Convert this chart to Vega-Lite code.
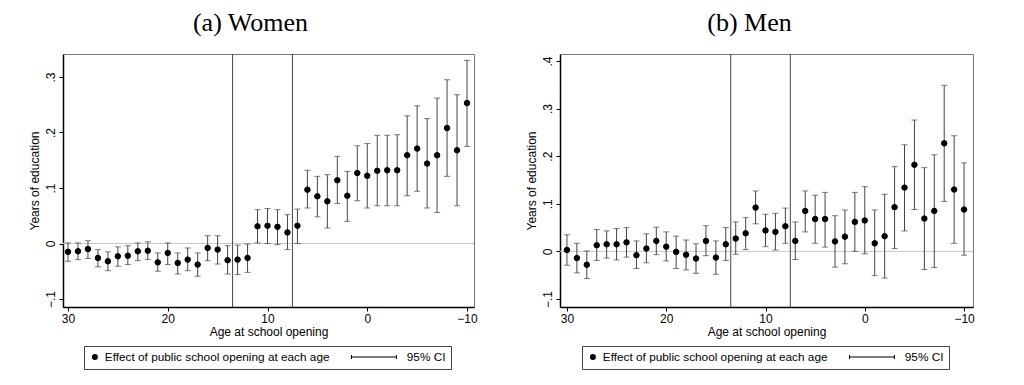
{
  "$schema": "https://vega.github.io/schema/vega-lite/v6.json",
  "padding": {"left": 27, "top": 9, "right": 5, "bottom": 5},
  "background": "white",
  "datasets": {
    "women": [
      {"age": 30, "b": -0.015, "hi": 0.001, "lo": -0.032},
      {"age": 29, "b": -0.014, "hi": 0.001, "lo": -0.029},
      {"age": 28, "b": -0.010, "hi": 0.005, "lo": -0.027},
      {"age": 27, "b": -0.026, "hi": -0.011, "lo": -0.042},
      {"age": 26, "b": -0.032, "hi": -0.015, "lo": -0.049},
      {"age": 25, "b": -0.023, "hi": -0.006, "lo": -0.041},
      {"age": 24, "b": -0.022, "hi": -0.004, "lo": -0.038},
      {"age": 23, "b": -0.014, "hi": 0.001, "lo": -0.031},
      {"age": 22, "b": -0.013, "hi": 0.003, "lo": -0.029},
      {"age": 21, "b": -0.034, "hi": -0.017, "lo": -0.050},
      {"age": 20, "b": -0.017, "hi": 0.001, "lo": -0.038},
      {"age": 19, "b": -0.035, "hi": -0.017, "lo": -0.055},
      {"age": 18, "b": -0.029, "hi": -0.008, "lo": -0.049},
      {"age": 17, "b": -0.038, "hi": -0.017, "lo": -0.059},
      {"age": 16, "b": -0.008, "hi": 0.014, "lo": -0.031},
      {"age": 15, "b": -0.011, "hi": 0.014, "lo": -0.037},
      {"age": 14, "b": -0.030, "hi": -0.004, "lo": -0.055},
      {"age": 13, "b": -0.029, "hi": -0.003, "lo": -0.056},
      {"age": 12, "b": -0.026, "hi": -0.001, "lo": -0.052},
      {"age": 11, "b": 0.031, "hi": 0.061, "lo": 0.001},
      {"age": 10, "b": 0.032, "hi": 0.063, "lo": 0.000},
      {"age": 9, "b": 0.030, "hi": 0.061, "lo": -0.002},
      {"age": 8, "b": 0.020, "hi": 0.052, "lo": -0.011},
      {"age": 7, "b": 0.032, "hi": 0.062, "lo": 0.000},
      {"age": 6, "b": 0.097, "hi": 0.132, "lo": 0.064},
      {"age": 5, "b": 0.085, "hi": 0.121, "lo": 0.048},
      {"age": 4, "b": 0.076, "hi": 0.124, "lo": 0.028},
      {"age": 3, "b": 0.114, "hi": 0.157, "lo": 0.072},
      {"age": 2, "b": 0.086, "hi": 0.130, "lo": 0.040},
      {"age": 1, "b": 0.127, "hi": 0.176, "lo": 0.077},
      {"age": 0, "b": 0.122, "hi": 0.180, "lo": 0.064},
      {"age": -1, "b": 0.131, "hi": 0.195, "lo": 0.068},
      {"age": -2, "b": 0.132, "hi": 0.195, "lo": 0.068},
      {"age": -3, "b": 0.132, "hi": 0.196, "lo": 0.068},
      {"age": -4, "b": 0.159, "hi": 0.230, "lo": 0.086},
      {"age": -5, "b": 0.171, "hi": 0.248, "lo": 0.094},
      {"age": -6, "b": 0.144, "hi": 0.225, "lo": 0.064},
      {"age": -7, "b": 0.159, "hi": 0.262, "lo": 0.056},
      {"age": -8, "b": 0.208, "hi": 0.295, "lo": 0.121},
      {"age": -9, "b": 0.168, "hi": 0.268, "lo": 0.068},
      {"age": -10, "b": 0.253, "hi": 0.330, "lo": 0.175}
    ],
    "men": [
      {"age": 30, "b": 0.003, "hi": 0.035, "lo": -0.029},
      {"age": 29, "b": -0.014, "hi": 0.017, "lo": -0.045},
      {"age": 28, "b": -0.028, "hi": 0.001, "lo": -0.057},
      {"age": 27, "b": 0.013, "hi": 0.046, "lo": -0.019},
      {"age": 26, "b": 0.015, "hi": 0.043, "lo": -0.014},
      {"age": 25, "b": 0.015, "hi": 0.048, "lo": -0.018},
      {"age": 24, "b": 0.019, "hi": 0.050, "lo": -0.012},
      {"age": 23, "b": -0.008, "hi": 0.022, "lo": -0.036},
      {"age": 22, "b": 0.006, "hi": 0.037, "lo": -0.024},
      {"age": 21, "b": 0.022, "hi": 0.051, "lo": -0.007},
      {"age": 20, "b": 0.010, "hi": 0.041, "lo": -0.020},
      {"age": 19, "b": -0.001, "hi": 0.032, "lo": -0.036},
      {"age": 18, "b": -0.007, "hi": 0.024, "lo": -0.039},
      {"age": 17, "b": -0.015, "hi": 0.016, "lo": -0.046},
      {"age": 16, "b": 0.022, "hi": 0.054, "lo": -0.009},
      {"age": 15, "b": -0.013, "hi": 0.022, "lo": -0.048},
      {"age": 14, "b": 0.015, "hi": 0.050, "lo": -0.019},
      {"age": 13, "b": 0.027, "hi": 0.062, "lo": -0.006},
      {"age": 12, "b": 0.038, "hi": 0.071, "lo": 0.004},
      {"age": 11, "b": 0.092, "hi": 0.127, "lo": 0.058},
      {"age": 10, "b": 0.044, "hi": 0.078, "lo": 0.010},
      {"age": 9, "b": 0.041, "hi": 0.080, "lo": 0.003},
      {"age": 8, "b": 0.053, "hi": 0.091, "lo": 0.017},
      {"age": 7, "b": 0.022, "hi": 0.062, "lo": -0.017},
      {"age": 6, "b": 0.085, "hi": 0.127, "lo": 0.041},
      {"age": 5, "b": 0.068, "hi": 0.118, "lo": 0.017},
      {"age": 4, "b": 0.068, "hi": 0.124, "lo": 0.009},
      {"age": 3, "b": 0.021, "hi": 0.075, "lo": -0.033},
      {"age": 2, "b": 0.031, "hi": 0.087, "lo": -0.026},
      {"age": 1, "b": 0.062, "hi": 0.124, "lo": 0.000},
      {"age": 0, "b": 0.065, "hi": 0.136, "lo": -0.005},
      {"age": -1, "b": 0.017, "hi": 0.087, "lo": -0.051},
      {"age": -2, "b": 0.032, "hi": 0.120, "lo": -0.056},
      {"age": -3, "b": 0.093, "hi": 0.178, "lo": 0.006},
      {"age": -4, "b": 0.134, "hi": 0.224, "lo": 0.043},
      {"age": -5, "b": 0.182, "hi": 0.276, "lo": 0.088},
      {"age": -6, "b": 0.069, "hi": 0.176, "lo": -0.038},
      {"age": -7, "b": 0.085, "hi": 0.203, "lo": -0.034},
      {"age": -8, "b": 0.227, "hi": 0.349, "lo": 0.105},
      {"age": -9, "b": 0.130, "hi": 0.243, "lo": 0.017},
      {"age": -10, "b": 0.088, "hi": 0.186, "lo": -0.008}
    ]
  },
  "hconcat": [
    {
      "width": 411,
      "height": 253,
      "title": {"text": "(a) Women", "font": "Liberation Serif", "fontSize": 26, "fontWeight": "normal", "color": "black", "anchor": "middle", "offset": 18, "dx": -18},
      "data": {"name": "women"},
      "encoding": {
        "x": {"field": "age", "type": "quantitative", "scale": {"domain": [-10.7, 30.5], "reverse": true, "nice": false, "zero": false},
              "axis": {"title": "Age at school opening", "values": [30, 20, 10, 0, -10], "labelPadding": 2, "titlePadding": 2}}
      },
      "layer": [
        {"data": {"values": [{"z": 0}]}, "mark": {"type": "rule", "color": "#c8c8c8", "strokeWidth": 1}, "encoding": {"x": null, "y": {"field": "z", "type": "quantitative"}}},
        {"data": {"values": [{"v": 13.5}, {"v": 7.5}]}, "mark": {"type": "rule", "color": "#444", "strokeWidth": 1}, "encoding": {"x": {"field": "v", "type": "quantitative"}}},
        {"mark": {"type": "rule", "color": "#444", "strokeWidth": 1}, "encoding": {"y": {"field": "lo", "type": "quantitative"}, "y2": {"field": "hi"}}},
        {"mark": {"type": "tick", "orient": "horizontal", "color": "#444", "size": 6, "thickness": 1}, "encoding": {"y": {"field": "lo", "type": "quantitative"}}},
        {"mark": {"type": "tick", "orient": "horizontal", "color": "#444", "size": 6, "thickness": 1}, "encoding": {"y": {"field": "hi", "type": "quantitative"}}},
        {
          "mark": {"type": "point", "filled": true, "fill": "black", "stroke": "black", "strokeWidth": 1, "size": 30, "opacity": 1},
          "encoding": {
            "y": {"field": "b", "type": "quantitative", "scale": {"domain": [-0.1144, 0.3414], "nice": false, "zero": false},
                  "axis": {"title": "Years of education", "values": [-0.1, 0, 0.1, 0.2, 0.3], "labelAngle": -90, "labelPadding": 2, "titlePadding": 3,
                           "labelExpr": "datum.value == 0 ? '0' : replace(format(datum.value, '.1f'), '0.', '.')"}},
            "shape": {"datum": "Effect of public school opening at each age", "type": "nominal",
                      "scale": {"domain": ["Effect of public school opening at each age", "95% CI"], "range": ["circle", "M-15.3,-0.17L0,-0.17L0,0.17L-15.3,0.17ZM-15.3,-0.67L-14.97,-0.67L-14.97,0.67L-15.3,0.67ZM-0.33,-0.67L0,-0.67L0,0.67L-0.33,0.67Z"]},
                      "legend": {"title": null, "orient": "none", "legendX": 21, "legendY": 292, "direction": "horizontal", "strokeColor": "#444", "fillColor": "white", "padding": 5,
                                 "symbolSize": 36, "symbolFillColor": "black", "symbolStrokeColor": "black", "symbolStrokeWidth": 0, "labelOffset": 4, "columnPadding": 20, "labelLimit": 500,
                                 "labelFont": "Liberation Sans", "labelFontSize": 11.8, "labelColor": "black"}}
          }
        }
      ]
    },
    {
      "width": 413,
      "height": 253,
      "title": {"text": "(b) Men", "font": "Liberation Serif", "fontSize": 26, "fontWeight": "normal", "color": "black", "anchor": "middle", "offset": 18, "dx": -17},
      "data": {"name": "men"},
      "encoding": {
        "x": {"field": "age", "type": "quantitative", "scale": {"domain": [-10.9, 30.7], "reverse": true, "nice": false, "zero": false},
              "axis": {"title": "Age at school opening", "values": [30, 20, 10, 0, -10], "labelPadding": 2, "titlePadding": 2}}
      },
      "layer": [
        {"data": {"values": [{"z": 0}]}, "mark": {"type": "rule", "color": "#c8c8c8", "strokeWidth": 1}, "encoding": {"x": null, "y": {"field": "z", "type": "quantitative"}}},
        {"data": {"values": [{"v": 13.5}, {"v": 7.5}]}, "mark": {"type": "rule", "color": "#444", "strokeWidth": 1}, "encoding": {"x": {"field": "v", "type": "quantitative"}}},
        {"mark": {"type": "rule", "color": "#444", "strokeWidth": 1}, "encoding": {"y": {"field": "lo", "type": "quantitative"}, "y2": {"field": "hi"}}},
        {"mark": {"type": "tick", "orient": "horizontal", "color": "#444", "size": 6, "thickness": 1}, "encoding": {"y": {"field": "lo", "type": "quantitative"}}},
        {"mark": {"type": "tick", "orient": "horizontal", "color": "#444", "size": 6, "thickness": 1}, "encoding": {"y": {"field": "hi", "type": "quantitative"}}},
        {
          "mark": {"type": "point", "filled": true, "fill": "black", "stroke": "black", "strokeWidth": 1, "size": 30, "opacity": 1},
          "encoding": {
            "y": {"field": "b", "type": "quantitative", "scale": {"domain": [-0.1168, 0.4147], "nice": false, "zero": false},
                  "axis": {"title": "Years of education", "values": [-0.1, 0, 0.1, 0.2, 0.3, 0.4], "labelAngle": -90, "labelPadding": 2, "titlePadding": 3,
                           "labelExpr": "datum.value == 0 ? '0' : replace(format(datum.value, '.1f'), '0.', '.')"}},
            "shape": {"datum": "Effect of public school opening at each age", "type": "nominal",
                      "scale": {"domain": ["Effect of public school opening at each age", "95% CI"], "range": ["circle", "M-15.3,-0.17L0,-0.17L0,0.17L-15.3,0.17ZM-15.3,-0.67L-14.97,-0.67L-14.97,0.67L-15.3,0.67ZM-0.33,-0.67L0,-0.67L0,0.67L-0.33,0.67Z"]},
                      "legend": {"title": null, "orient": "none", "legendX": 22, "legendY": 292, "direction": "horizontal", "strokeColor": "#444", "fillColor": "white", "padding": 5,
                                 "symbolSize": 36, "symbolFillColor": "black", "symbolStrokeColor": "black", "symbolStrokeWidth": 0, "labelOffset": 4, "columnPadding": 20, "labelLimit": 500,
                                 "labelFont": "Liberation Sans", "labelFontSize": 11.8, "labelColor": "black"}}
          }
        }
      ]
    }
  ],
  "spacing": 86,
  "bounds": "flush",
  "resolve": {"scale": {"x": "independent", "y": "independent", "shape": "independent"}, "legend": {"shape": "independent"}},
  "config": {
    "font": "Liberation Sans",
    "view": {"stroke": "#777", "strokeWidth": 1},
    "axis": {"grid": false, "domainColor": "black", "domainWidth": 1.5, "tickColor": "black", "tickSize": 4,
             "labelFont": "Liberation Sans", "labelFontSize": 12, "labelColor": "black",
             "titleFont": "Liberation Sans", "titleFontSize": 12, "titleFontWeight": "normal", "titleColor": "black"}
  }
}
